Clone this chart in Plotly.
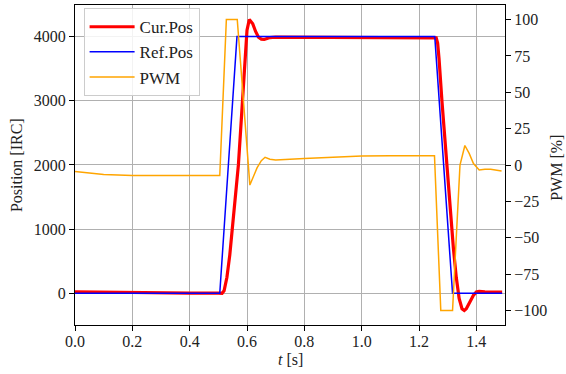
import plotly.graph_objects as go

# Reference position (blue)
ref_t = [0.0, 0.505, 0.565, 1.255, 1.317, 1.49]
ref_pos = [0, 0, 4000, 4000, 0, 0]

# Current position (red)
cur_t = [0.0, 0.1, 0.2, 0.3, 0.4, 0.5, 0.513, 0.52, 0.53, 0.54, 0.55, 0.56, 0.57, 0.58, 0.59,
         0.60, 0.608, 0.62, 0.63, 0.64, 0.65, 0.66, 0.67, 0.68, 0.70, 0.9, 1.1, 1.255,
         1.26, 1.265, 1.27, 1.28, 1.29, 1.30, 1.31, 1.32, 1.33, 1.34, 1.35, 1.358, 1.365,
         1.375, 1.39, 1.40, 1.41, 1.43, 1.49]
cur_pos = [25, 18, 10, 5, 3, 2, 0, 40, 250, 600, 1050, 1500, 2000, 2700, 3500,
           4100, 4265, 4200, 4080, 3990, 3960, 3955, 3970, 3985, 3990, 3990, 3990, 3990,
           3980, 3900, 3650, 3000, 2400, 1800, 1200, 700, 250, -80, -240, -266, -240,
           -150, -30, 20, 30, 25, 20]

# PWM (orange, right axis)
pwm_t = [0.0, 0.1, 0.2, 0.3, 0.4, 0.505, 0.528, 0.566, 0.61, 0.62, 0.635, 0.65, 0.663,
         0.68, 0.70, 0.8, 0.9, 1.0, 1.1, 1.254, 1.276, 1.317, 1.343, 1.36, 1.375, 1.39,
         1.41, 1.43, 1.45, 1.488]
pwm = [-4.5, -6.5, -7.3, -7.3, -7.2, -7.2, 100, 100, -13.8, -9, -2, 3, 5.3,
       4, 3.4, 4.5, 5.5, 6.2, 6.3, 6.3, -100, -100, 0, 13.4, 8, 1,
       -3.4, -2.9, -3.0, -4.1]

x_ticks = [0.0, 0.2, 0.4, 0.6, 0.8, 1.0, 1.2, 1.4]
y_ticks = [0, 1000, 2000, 3000, 4000]
y2_ticks = [-100, -75, -50, -25, 0, 25, 50, 75, 100]

FONT = "Liberation Serif, DejaVu Serif, serif"
TXT = "#222222"

fig = go.Figure()
fig.add_trace(go.Scatter(x=cur_t, y=cur_pos, mode="lines", name="Cur.Pos",
                         line=dict(color="#ff0000", width=3.2)))
fig.add_trace(go.Scatter(x=ref_t, y=ref_pos, mode="lines", name="Ref.Pos",
                         line=dict(color="#0000ff", width=1.5)))
fig.add_trace(go.Scatter(x=pwm_t, y=pwm, mode="lines", name="PWM", yaxis="y2",
                         line=dict(color="#ffa500", width=1.5)))

axis_common = dict(showline=True, linecolor="black", linewidth=1.2, ticks="outside",
                   ticklen=5, tickwidth=1, tickcolor="black", zeroline=False,
                   tickfont=dict(family=FONT, size=16, color=TXT))

fig.update_layout(
    width=566, height=374,
    margin=dict(l=75, r=61, t=5, b=49),
    paper_bgcolor="white", plot_bgcolor="white",
    font=dict(family=FONT, size=16, color=TXT),
    xaxis=dict(range=[0, 1.5], tickvals=x_ticks, tickformat=".1f", mirror=True,
               showgrid=True, gridcolor="#b0b0b0", gridwidth=1, ticklabelstandoff=-3,
               **axis_common),
    yaxis=dict(range=[-493, 4492], tickvals=y_ticks, tickformat="d", mirror=True,
               showgrid=True, gridcolor="#b0b0b0", gridwidth=1, **axis_common),
    yaxis2=dict(range=[-110, 110], tickvals=y2_ticks, overlaying="y", side="right",
                showgrid=False, **axis_common),
    showlegend=True,
    legend=dict(x=0.02, y=0.99, xanchor="left", yanchor="top",
                bgcolor="rgba(255,255,255,0.85)", bordercolor="#cccccc", borderwidth=1,
                font=dict(family=FONT, size=17, color=TXT), tracegroupgap=0,
                itemwidth=45),
    annotations=[
        dict(text="Position [IRC]", xref="paper", yref="paper", x=-0.137, y=0.5,
             textangle=-90, showarrow=False, xanchor="center", yanchor="middle",
             font=dict(family=FONT, size=16, color=TXT)),
        dict(text="PWM [%]", xref="paper", yref="paper", x=1.12, y=0.49,
             textangle=-90, showarrow=False, xanchor="center", yanchor="middle",
             font=dict(family=FONT, size=16, color=TXT)),
        dict(text="<i>t</i> [s]", xref="paper", yref="paper", x=0.5, y=-0.109,
             showarrow=False, xanchor="center", yanchor="middle",
             font=dict(family=FONT, size=16, color=TXT)),
    ],
)

fig.write_html("out.html", config={"displayModeBar": False},
               post_script="document.body.style.margin='0';")
